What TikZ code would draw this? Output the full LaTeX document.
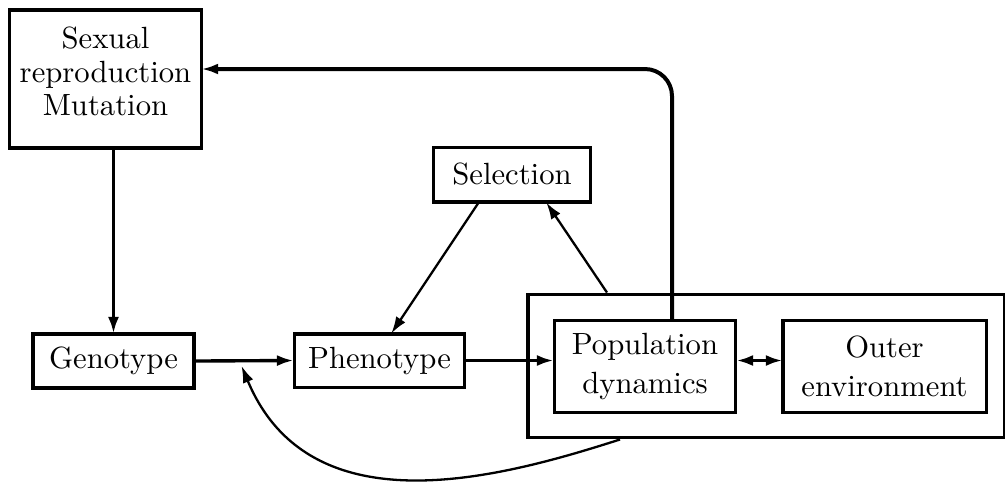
\documentclass[tikz,border=0pt]{standalone}
\usetikzlibrary{arrows.meta,calc}
\begin{document}
\begin{tikzpicture}[x=0.326pt,y=-0.326pt,
  box/.style={draw,line width=1pt,inner sep=0pt,align=center,font=\fontsize{10}{12.5}\selectfont},
  tip/.style={-{Latex[length=5.5pt,width=3.6pt]},shorten >=-0.4pt},
  thick arrow/.style={tip,line width=1.1pt},
  thin arrow/.style={tip,line width=0.75pt}]
\useasboundingbox (0,0) rectangle (1005,484);
\node[box,minimum width=62.3pt,minimum height=45pt] (sex) at (105.5,79) {};
\node[align=center,inner sep=0pt,font=\fontsize{10}{11.3}\selectfont] (sextext) at (105.5,71)
  {Sexual\\reproduction\\[-0.8pt]Mutation};
\node[box,minimum width=52.5pt,minimum height=17.6pt] (geno) at (113.5,361) {Genotype};
\node[box,minimum width=55.7pt,minimum height=17.3pt] (pheno) at (379.5,360.5) {Phenotype};
\node[box,minimum width=50.9pt,minimum height=17.9pt] (sel) at (512,174.5) {Selection};
\node[box,minimum width=155.2pt,minimum height=46.9pt] (env) at (766,366) {};
\node[box,minimum width=59.3pt,minimum height=29.7pt] (pop) at (645,366.5) {Population\\dynamics};
\node[box,minimum width=66.2pt,minimum height=29.7pt] (outer) at (884.5,366.5) {Outer\\environment};
\coordinate (fb) at (672,69);
\coordinate (ce) at (242,367);
% arrows
\draw[thick arrow] (geno.north |- sex.south) -- (geno.north);
\draw[thick arrow] (geno.east) -- (pheno.west);
\draw[thick arrow] (pheno.east) -- (pheno.east -| pop.west);
\draw[{Latex[length=5.5pt,width=3.6pt]}-{Latex[length=5.5pt,width=3.6pt]},line width=1.1pt,shorten <=-0.4pt,shorten >=-0.4pt]
  (pheno.east -| pop.east) -- (pheno.east -| outer.west);
\draw[thick arrow,line width=1.3pt,rounded corners=8.8pt]
  (pop.north -| fb) -- (fb) -- (sex.east |- fb);
\draw[thin arrow] ($(sel.south)+(-34,0)$) -- ($(pheno.north)+(12.5,0)$);
\draw[thin arrow] ($(env.north)+(-159,0)$) -- ($(sel.south)+(35,0)$);
\draw[thin arrow] ($(env.south)+(-146,0)$) .. controls (500,478) and (310,530) .. (ce);
\end{tikzpicture}
\end{document}
